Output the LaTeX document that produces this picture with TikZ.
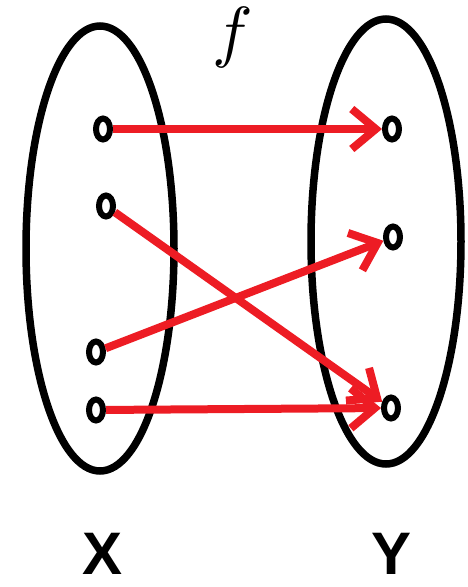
\documentclass[tikz,border=0pt]{standalone}
\usepackage{fontspec}
\setmainfont{Liberation Serif}
\newfontfamily\labelfont{Liberation Sans}
\usetikzlibrary{arrows.meta,shapes.geometric}
\definecolor{arrowred}{RGB}{237,28,36}
\tikzset{
  >={Straight Barb[length=24pt,width=40pt]},
  setline/.style={line width=7.5pt},
  elem/.style={ellipse,draw,line width=6pt,inner sep=0pt,minimum width=14pt,minimum height=21pt},
  map/.style={->,line width=8pt,draw=arrowred},
  setname/.style={font=\labelfont\bfseries\fontsize{60}{60}\selectfont,anchor=base,inner sep=0pt},
}
\begin{document}
\begin{tikzpicture}[x=1pt,y=-1pt]
  \useasboundingbox (0,0) rectangle (468,587);
  % the two sets
  \draw[setline] (100,248.5) ellipse [x radius=74, y radius=222.5];
  \draw[setline] (386,241.5) ellipse [x radius=75, y radius=222.5];
  % elements of X
  \node[elem] (x1) at (103,129) {};
  \node[elem] (x2) at (106,206) {};
  \node[elem] (x3) at (96,352) {};
  \node[elem] (x4) at (96,410) {};
  % elements of Y
  \node[elem] (y1) at (392,129) {};
  \node[elem] (y2) at (393,237) {};
  \node[elem] (y3) at (391,408) {};
  % the mapping
  \draw[map] (x1) -- (y1);
  \draw[map] (x2) -- (y3);
  \draw[map] (x3) -- (y2);
  \draw[map] (x4) -- (y3);
  \node[scale=6.8,anchor=base,inner sep=0pt] (f) at (233,54) {$f$};
  \node[setname] (X) at (103,574) {X};
  \node[setname] (Y) at (392,574) {Y};
\end{tikzpicture}
\end{document}
